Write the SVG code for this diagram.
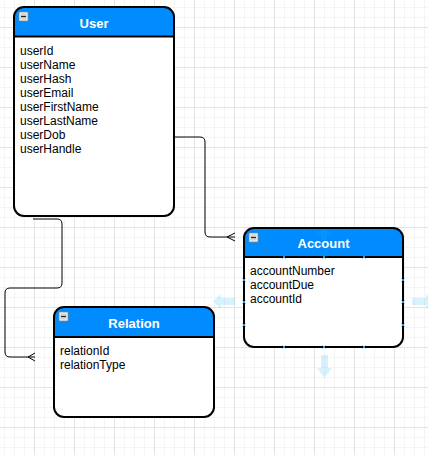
<svg xmlns="http://www.w3.org/2000/svg" width="428" height="455" viewBox="0 0 428 455">
<style>
.box{fill:#ffffff;stroke:none}
.hdr{fill:#008cff;stroke:none}
.outline{fill:none;stroke:#000;stroke-width:2}
.sep{stroke:#000;stroke-width:2}
.title{font-family:"Liberation Sans",Arial,Helvetica,sans-serif;font-size:13px;font-weight:bold;fill:#fff;text-anchor:middle}
.field{font-family:"Liberation Sans",Arial,Helvetica,sans-serif;font-size:12px;fill:#000}
.conn{fill:none;stroke:#000;stroke-width:1}
.icon{fill:#d4d4d4;stroke:#808080;stroke-width:0.8}
.minus{stroke:#222;stroke-width:1.2}
.mk{stroke:#29a6f2;stroke-width:0.9}
.hover{fill:#29b6f2;fill-opacity:0.18}
</style>
<defs>
<pattern id="minor" width="10" height="10" patternUnits="userSpaceOnUse" x="4" y="7">
<path d="M0,0.5 H10 M0.5,0 V10" stroke="#f4f4f4" stroke-width="1" fill="none"/>
</pattern>
<pattern id="major" width="40" height="40" patternUnits="userSpaceOnUse" x="34" y="27">
<path d="M0,0.5 H40 M0.5,0 V40" stroke="#e4e4e4" stroke-width="1" fill="none"/>
</pattern>
<g id="collapse">
<rect class="icon" x="0" y="0" width="9" height="9"/>
<rect x="1" y="1" width="7" height="7" fill="none" stroke="#f2f2f2" stroke-width="0.8"/>
<line class="minus" x1="2" y1="4.5" x2="7" y2="4.5"/>
</g>
</defs>
<rect width="428" height="455" fill="#fff"/>
<rect width="428" height="455" fill="url(#minor)"/>
<rect width="428" height="455" fill="url(#major)"/>

<g id="connectors">
<path class="conn" d="M174,137 H200 Q205,137 205,142 V232 Q205,237 210,237 H235"/>
<path class="conn" d="M227,237 L235,233 M227,237 L235,241"/>
<path class="conn" d="M33,219 H57 Q62,219 62,224 V283 Q62,288 57,288 H10 Q5,288 5,293 V352 Q5,357 10,357 H35"/>
<path class="conn" d="M28,357 L35,353 M28,357 L35,361"/>
</g>

<g id="user">
<rect class="box" x="14" y="7" width="160" height="209" rx="10"/>
<path class="hdr" d="M14,36.5 V17 A10,10 0 0 1 24,7 H164 A10,10 0 0 1 174,17 V36.5 Z"/>
<line class="sep" x1="14" y1="36.5" x2="174" y2="36.5"/>
<rect class="outline" x="14" y="7" width="160" height="209" rx="10"/>
<use href="#collapse" x="19" y="12"/>
<text class="title" x="94" y="28">User</text>
<text class="field" x="20" y="55">userId</text>
<text class="field" x="20" y="69">userName</text>
<text class="field" x="20" y="83">userHash</text>
<text class="field" x="20" y="97">userEmail</text>
<text class="field" x="20" y="111">userFirstName</text>
<text class="field" x="20" y="125">userLastName</text>
<text class="field" x="20" y="139">userDob</text>
<text class="field" x="20" y="153">userHandle</text>
</g>

<g id="account">
<rect class="box" x="244" y="228" width="159" height="119" rx="10"/>
<path class="hdr" d="M244,257 V238 A10,10 0 0 1 254,228 H393 A10,10 0 0 1 403,238 V257 Z"/>
<path class="hover" d="M321,240 V234 H317 L324,227 L331,234 H327 V240 Z"/>
<line class="sep" x1="244" y1="257" x2="403" y2="257"/>
<rect class="outline" x="244" y="228" width="159" height="119" rx="10"/>
<use href="#collapse" x="249" y="233"/>
<text class="title" x="323.5" y="248">Account</text>
<text class="field" x="250" y="275">accountNumber</text>
<text class="field" x="250" y="289">accountDue</text>
<text class="field" x="250" y="303">accountId</text>
</g>

<g id="hover-arrows">
<path class="hover" d="M235,298 H221 V294 L213,301.5 L221,309 V305 H235 Z"/>
<path class="hover" d="M412,298 H426 V294 L434,301.5 L426,309 V305 H412 Z"/>
<path class="hover" d="M321,355 V368 H317 L324.5,378 L332,368 H328 V355 Z"/>
</g>

<g id="markers">
<path class="mk" d="M282.5,255.5 l3,3 m0,-3 l-3,3 M322.5,255.5 l3,3 m0,-3 l-3,3 M362.5,255.5 l3,3 m0,-3 l-3,3"/>
<path class="mk" d="M282.5,345.5 l3,3 m0,-3 l-3,3 M322.5,345.5 l3,3 m0,-3 l-3,3 M362.5,345.5 l3,3 m0,-3 l-3,3"/>
<path class="mk" d="M242.5,278.5 l3,3 m0,-3 l-3,3 M242.5,300.5 l3,3 m0,-3 l-3,3 M242.5,323.5 l3,3 m0,-3 l-3,3"/>
<path class="mk" d="M401.5,278.5 l3,3 m0,-3 l-3,3 M401.5,300.5 l3,3 m0,-3 l-3,3 M401.5,323.5 l3,3 m0,-3 l-3,3"/>
</g>

<g id="relation">
<rect class="box" x="54" y="307" width="160" height="110" rx="10"/>
<path class="hdr" d="M54,337 V317 A10,10 0 0 1 64,307 H204 A10,10 0 0 1 214,317 V337 Z"/>
<line class="sep" x1="54" y1="337" x2="214" y2="337"/>
<rect class="outline" x="54" y="307" width="160" height="110" rx="10"/>
<use href="#collapse" x="59" y="312"/>
<text class="title" x="134" y="328">Relation</text>
<text class="field" x="60" y="355">relationId</text>
<text class="field" x="60" y="369">relationType</text>
</g>
</svg>
